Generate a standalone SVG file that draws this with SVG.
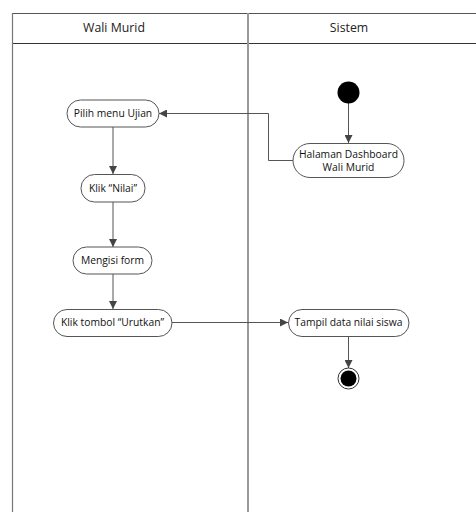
<svg xmlns="http://www.w3.org/2000/svg" width="476" height="512" viewBox="0 0 476 512">
<style>
.node rect{fill:#fff;stroke:#555;stroke-width:1}
.lbl{font-family:"Open Sans","Noto Sans",sans-serif;font-size:10.3px;fill:#111;text-anchor:middle}
.hdr{font-family:"Open Sans","Noto Sans",sans-serif;font-size:12.3px;fill:#222;text-anchor:middle}
.edge{fill:none;stroke:#555;stroke-width:1}
</style>
<defs>
<marker id="arr" viewBox="0 0 10 10" refX="10" refY="5" markerWidth="8" markerHeight="8" markerUnits="userSpaceOnUse" orient="auto">
<path d="M0,0 L10,5 L0,10 z" fill="#444"/>
</marker>
</defs>
<rect width="476" height="512" fill="#fff"/>
<g id="lanes">
<line x1="12.5" y1="13.5" x2="476" y2="13.5" stroke="#555" stroke-width="1"/>
<line x1="12.5" y1="43.5" x2="476" y2="43.5" stroke="#333" stroke-width="1"/>
<line x1="12.5" y1="13" x2="12.5" y2="512" stroke="#777" stroke-width="1.2"/>
<line x1="248" y1="13" x2="248" y2="512" stroke="#999" stroke-width="2"/>
<text class="hdr" x="114" y="32">Wali Murid</text>
<text class="hdr" x="349" y="32">Sistem</text>
</g>
<g id="connectors">
<line class="edge" x1="348.5" y1="103" x2="348.5" y2="143" marker-end="url(#arr)"/>
<polyline class="edge" points="293,160.5 268.5,160.5 268.5,113.5 159,113.5" marker-end="url(#arr)"/>
<line class="edge" x1="113" y1="127" x2="113" y2="174" marker-end="url(#arr)"/>
<line class="edge" x1="113" y1="202" x2="113" y2="247" marker-end="url(#arr)"/>
<line class="edge" x1="113" y1="274" x2="113" y2="309" marker-end="url(#arr)"/>
<line class="edge" x1="172" y1="322.5" x2="288" y2="322.5" marker-end="url(#arr)"/>
<line class="edge" x1="348.5" y1="336.5" x2="348.5" y2="368" marker-end="url(#arr)"/>
</g>
<g id="start"><circle cx="348.5" cy="92.5" r="11" fill="#000"/></g>
<g id="halaman" class="node"><rect x="293" y="143.5" width="111" height="34" rx="17"/><text class="lbl" x="348.5" y="157.5">Halaman Dashboard</text><text class="lbl" x="348.5" y="170.5">Wali Murid</text></g>
<g id="pilih" class="node"><rect x="67" y="100" width="92" height="27" rx="13.5"/><text class="lbl" x="113" y="117">Pilih menu Ujian</text></g>
<g id="klik" class="node"><rect x="81" y="174.5" width="64" height="27.5" rx="13.5"/><text class="lbl" x="113" y="191.5">Klik “Nilai”</text></g>
<g id="mengisi" class="node"><rect x="73" y="247" width="79" height="27" rx="13.5"/><text class="lbl" x="112.5" y="264">Mengisi form</text></g>
<g id="urutkan" class="node"><rect x="53.5" y="309.5" width="118.5" height="27" rx="13.5"/><text class="lbl" x="112.5" y="326">Klik tombol “Urutkan”</text></g>
<g id="tampil" class="node"><rect x="288.5" y="309.5" width="120.5" height="27" rx="13.5"/><text class="lbl" x="348.5" y="326">Tampil data nilai siswa</text></g>
<g id="end"><circle cx="348.5" cy="378.5" r="10.5" fill="#fff" stroke="#333" stroke-width="1"/><circle cx="348.5" cy="378.5" r="8" fill="#000"/></g>
</svg>
